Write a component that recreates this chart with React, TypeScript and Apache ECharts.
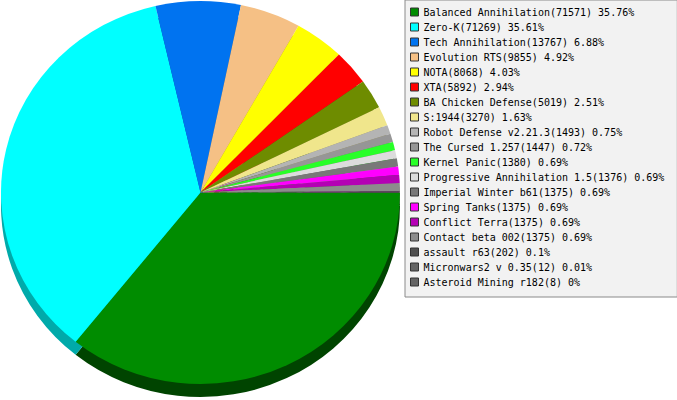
import React, { useEffect, useRef } from "react";
import * as echarts from "echarts";

const names = [
  "Balanced Annihilation",
  "Zero-K",
  "Tech Annihilation",
  "Evolution RTS",
  "NOTA",
  "XTA",
  "BA Chicken Defense",
  "S:1944",
  "Robot Defense v2.21.3",
  "The Cursed 1.257",
  "Kernel Panic",
  "Progressive Annihilation 1.5",
  "Imperial Winter b61",
  "Spring Tanks",
  "Conflict Terra",
  "Contact beta 002",
  "assault r63",
  "Micronwars2 v 0.35",
  "Asteroid Mining r182",
];

const values = [71571, 71269, 13767, 9855, 8068, 5892, 5019, 3270, 1493, 1447, 1380, 1376, 1375, 1375, 1375, 1375, 202, 12, 8];

const colors = [
  "#008c00", "#00ffff", "#0073f0", "#f5c085", "#ffff00", "#ff0000", "#6e8c00", "#f0e68c",
  "#b4b4b4", "#969696", "#28ff28", "#dcdcdc", "#787878", "#ff00ff", "#b400b4", "#8c8c8c",
  "#505050", "#646464", "#646464",
];

const sideColors = [
  "#004400", "#00aaaa", "#004da0", "#a38058", "#aaaa00", "#aa0000", "#495d00", "#a0995d",
  "#787878", "#646464", "#1aaa1a", "#939393", "#505050", "#aa00aa", "#780078", "#5d5d5d",
  "#353535", "#434343", "#434343",
];

const total = values.reduce((a, b) => a + b, 0);

export default function App() {
  const pieRef = useRef<HTMLDivElement>(null);
  const legRef = useRef<HTMLDivElement>(null);

  useEffect(() => {
    if (!pieRef.current || !legRef.current) return;
    const pie = echarts.init(pieRef.current, null, { renderer: "svg" });
    const leg = echarts.init(legRef.current, null, { renderer: "svg" });

    const common = {
      type: "pie" as const,
      silent: true,
      startAngle: 0,
      clockwise: true,
      radius: 199.5,
      label: { show: false },
      labelLine: { show: false },
      emphasis: { disabled: true },
      itemStyle: { borderWidth: 0 },
    };

    pie.setOption({
      animation: false,
      series: [
        {
          ...common,
          z: 1,
          center: [200.5, 214],
          data: names.map((n, i) => ({ name: n, value: values[i], itemStyle: { color: sideColors[i] } })),
        },
        {
          ...common,
          z: 2,
          center: [200.5, 200.5],
          data: names.map((n, i) => ({ name: n, value: values[i], itemStyle: { color: colors[i] } })),
        },
      ],
    });

    leg.setOption({
      animation: false,
      legend: {
        orient: "vertical",
        left: 405,
        top: 0,
        padding: [6, 13, 9, 5],
        itemWidth: 8,
        itemHeight: 8,
        itemGap: 3,
        icon: "rect",
        selectedMode: false,
        backgroundColor: "#f2f2f2",
        borderColor: "#8a8a8a",
        borderWidth: 1,
        borderRadius: 0,
        itemStyle: { borderColor: "#333333", borderWidth: 1 },
        textStyle: {
          fontFamily: "DejaVu Sans Mono",
          fontSize: 10,
          lineHeight: 12,
          color: "#000000",
        },
        formatter: (name: string) => {
          const i = names.indexOf(name);
          const pct = Math.round((values[i] / total) * 10000) / 100;
          return `${name}(${values[i]}) ${pct}%`;
        },
        data: names,
      },
      series: [
        {
          type: "pie",
          silent: true,
          center: [-100, -100],
          radius: 0,
          label: { show: false },
          labelLine: { show: false },
          itemStyle: { borderWidth: 0 },
          data: names.map((n, i) => ({ name: n, value: values[i], itemStyle: { color: colors[i] } })),
        },
      ],
    });

    return () => {
      pie.dispose();
      leg.dispose();
    };
  }, []);

  return (
    <div
      style={{
        position: "fixed",
        left: 0,
        top: 0,
        width: 677,
        height: 400,
        overflow: "hidden",
        background: "#ffffff",
      }}
    >
      <div
        ref={pieRef}
        style={{
          position: "absolute",
          left: 0,
          top: 0,
          width: 402,
          height: 420,
          transform: "scaleY(0.96)",
          transformOrigin: "0 0",
        }}
      />
      <div ref={legRef} style={{ position: "absolute", left: 0, top: 0, width: 677, height: 400 }} />
    </div>
  );
}
